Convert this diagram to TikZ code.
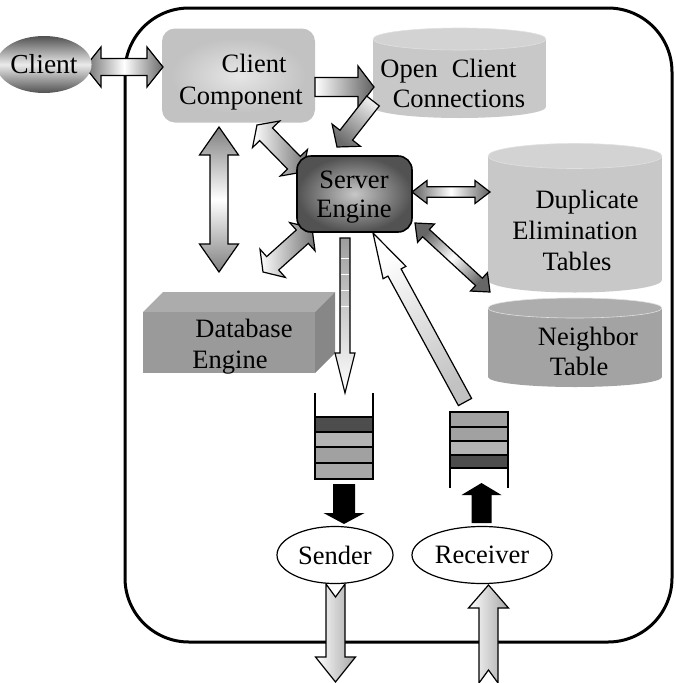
\documentclass[tikz,border=0pt]{standalone}
\usepackage{fontspec}
\setmainfont{Liberation Serif}
\usetikzlibrary{calc,shapes.geometric}

\definecolor{lidLight}{HTML}{D3D3D3}
\definecolor{bodyLight}{HTML}{C8C8C8}
\definecolor{lidDark}{HTML}{ADADAD}
\definecolor{bodyDark}{HTML}{A3A3A3}
\definecolor{dbFront}{HTML}{9A9A9A}
\definecolor{dbTop}{HTML}{ACACAC}
\definecolor{dbSide}{HTML}{878787}
\definecolor{slotDark}{HTML}{4D4D4D}
\definecolor{slotA}{HTML}{A1A1A1}
\definecolor{slotB}{HTML}{A8A8A8}
\definecolor{slotC}{HTML}{B4B4B4}
\definecolor{ccBase}{HTML}{C2C2C2}
\definecolor{ccGlow}{HTML}{E6E6E6}

% block arrow with a head at both ends: style, end A, end B, head length, shaft half width, head half width
\newcommand{\twoway}[6]{%
  \path ($(#2)!#4!(#3)$) coordinate (tw-a) ($(#3)!#4!(#2)$) coordinate (tw-b);
  \draw[#1] (#2) -- ($(tw-a)!#6!90:(#3)$) -- ($(tw-a)!#5!90:(#3)$)
    -- ($(tw-b)!#5!-90:(#2)$) -- ($(tw-b)!#6!-90:(#2)$) -- (#3)
    -- ($(tw-b)!#6!90:(#2)$) -- ($(tw-b)!#5!90:(#2)$)
    -- ($(tw-a)!#5!-90:(#3)$) -- ($(tw-a)!#6!-90:(#3)$) -- cycle;}
% block arrow with one head: style, tail, tip, head length, shaft half width, head half width
\newcommand{\oneway}[6]{%
  \path ($(#3)!#4!(#2)$) coordinate (ow-h);
  \draw[#1] ($(#2)!#5!90:(#3)$) -- ($(ow-h)!#5!-90:(#2)$) -- ($(ow-h)!#6!-90:(#2)$)
    -- (#3) -- ($(ow-h)!#6!90:(#2)$) -- ($(ow-h)!#5!90:(#2)$)
    -- ($(#2)!#5!-90:(#3)$) -- cycle;}
% block arrow with a notched tail: style, tail, tip, head length, shaft half, head half, notch depth
\newcommand{\notched}[7]{%
  \path ($(#3)!#4!(#2)$) coordinate (nt-h) ($(#2)!#7!(#3)$) coordinate (nt-n);
  \draw[#1] (nt-n) -- ($(#2)!#5!90:(#3)$) -- ($(nt-h)!#5!-90:(#2)$) -- ($(nt-h)!#6!-90:(#2)$)
    -- (#3) -- ($(nt-h)!#6!90:(#2)$) -- ($(nt-h)!#5!90:(#2)$)
    -- ($(#2)!#5!-90:(#3)$) -- cycle;}
% upright cylinder: cx, lid centre y, base centre y, rx, ry, body colour, lid colour
\newcommand{\drum}[7]{%
  \fill[#6] (#1,#3) ellipse[x radius=#4, y radius=#5];
  \fill[#6] (#1-#4,#2) rectangle (#1+#4,#3);
  \fill[#7, draw=white!88!black, line width=0.6pt] (#1,#2) ellipse[x radius=#4, y radius=#5];}

\tikzset{
  lbl/.style={anchor=base, inner sep=0pt, font=\fontsize{26.5}{32}\selectfont},
  blk/.style={draw=black, line width=1.2pt, line join=miter},
  slot/.style={draw=black, line width=1.2pt},
  oval/.style={ellipse, draw=black, line width=1.2pt, fill=white, inner sep=0pt,
    minimum height=57pt, font=\fontsize{26.5}{32}\selectfont},
}

\begin{document}
\begin{tikzpicture}[x=1pt, y=-1pt]
\useasboundingbox (0,0) rectangle (676,683);

% enclosing node boundary
\draw[line width=3pt, rounded corners=64pt] (125,8) rectangle (672,642);

% client component
\node[fill=ccBase, rounded corners=13pt, minimum width=153pt, minimum height=94pt, inner sep=0pt] (cc) at (238.5,75.5) {};
\node[inner color=ccGlow, outer color=ccBase, rounded corners=9pt, minimum width=135pt, minimum height=76pt, inner sep=0pt] (ccglow) at (238.5,75.5) {};
\node[lbl] (cc1) at (254,72) {Client};
\node[lbl] (cc2) at (241,104) {Component};

% stores
\drum{459.5}{39}{107}{86.5}{11}{bodyLight}{lidLight}
\node[lbl] (occ1) at (448.5,77) {Open\hspace{14pt}Client};
\node[lbl] (occ2) at (459,107) {Connections};

\drum{575}{156}{280}{87}{12.5}{bodyLight}{lidLight}
\node[lbl] (dup1) at (587,208) {Duplicate};
\node[lbl] (dup2) at (575,239) {Elimination};
\node[lbl] (dup3) at (577,270) {Tables};

\drum{575}{308}{377}{87}{10}{bodyDark}{lidDark}
\node[lbl] (nb1) at (588,345) {Neighbor};
\node[lbl] (nb2) at (579,375) {Table};

% database engine block
\fill[dbTop] (143,312) -- (163,292) -- (335,292) -- (315,312) -- cycle;
\fill[dbSide] (315,312) -- (335,292) -- (335,353) -- (315,373) -- cycle;
\fill[dbFront] (143,312) rectangle (315,373);
\node[lbl] (db1) at (244,337) {Database};
\node[lbl] (db2) at (230,368) {Engine};

% connector end points
\coordinate (clR) at (85,67);     \coordinate (ccL) at (163,67);
\coordinate (ccR) at (315,87);    \coordinate (occL) at (374,87);
\coordinate (occB) at (373,101);  \coordinate (seT) at (337,147);
\coordinate (ccB1) at (257,125);  \coordinate (seTL) at (303,172);
\coordinate (ccB2) at (219,127);  \coordinate (dbT) at (219,272);
\coordinate (seBL) at (312,228);  \coordinate (dbTR) at (263,272);
\coordinate (seR) at (412,192);   \coordinate (dupL) at (490,192);
\coordinate (seR2) at (415,223);  \coordinate (nbL) at (490,292);
\coordinate (seB) at (345,238);   \coordinate (sqT) at (345,393);
\coordinate (rqT) at (465,402);   \coordinate (seBR) at (373,233);
\coordinate (sqB) at (344,484);   \coordinate (sndT) at (344,524);
\coordinate (rcvT) at (481.5,523); \coordinate (rqB) at (481.5,483);
\coordinate (sndB) at (335.5,584); \coordinate (netOut) at (335.5,682);
\coordinate (netIn) at (488.5,683); \coordinate (rcvB) at (488.5,585);

% block arrows
\twoway{blk, left color=black!58, right color=black!58, middle color=white}{clR}{ccL}{16pt}{8.5pt}{20pt}
\oneway{blk, left color=white, right color=black!62}{ccR}{occL}{16pt}{9.5pt}{21pt}
\oneway{blk, top color=black!8, bottom color=black!58, shading angle=-38}{occB}{seT}{15pt}{8pt}{18pt}
\twoway{blk, left color=white, right color=black!55}{ccB1}{seTL}{13pt}{9pt}{19pt}
\twoway{blk, top color=black!50, bottom color=black!50, middle color=white}{ccB2}{dbT}{28pt}{9pt}{19.5pt}
\twoway{blk, left color=white, right color=black!55}{dbTR}{seBL}{13pt}{9pt}{19pt}
\twoway{blk, left color=black!62, right color=black!62, middle color=white}{seR}{dupL}{15pt}{5.3pt}{11.5pt}
\twoway{blk, top color=black!60, bottom color=black!60, middle color=white, shading angle=-132.6}{seR2}{nbL}{15pt}{5pt}{12.5pt}
\oneway{blk, top color=black!38, bottom color=white}{seB}{sqT}{40pt}{5pt}{10pt}
\foreach \ty in {258,274,290,306}
  \draw[white, line width=0.9pt] (341,\ty) -- (349,\ty);
\oneway{blk, top color=black!24, bottom color=white, shading angle=208.6}{rqT}{seBR}{45pt}{7.5pt}{13pt}

% server engine
\node[draw=black, line width=1.6pt, rounded corners=14pt, minimum width=115pt, minimum height=76pt,
      inner color=black!22, outer color=black!68, inner sep=0pt] (se) at (354.5,194) {};
\node[lbl] (se1) at (354,188) {Server};
\node[lbl] (se2) at (354,217) {Engine};

% outgoing and incoming queues
\fill[slotDark] (315,417) rectangle (373,432);
\fill[slotC] (315,432) rectangle (373,447);
\fill[slotA] (315,447) rectangle (373,463);
\fill[slotB] (315,463) rectangle (373,479);
\foreach \ty in {417,432,447,463} \draw[slot] (315,\ty) -- (373,\ty);
\draw[slot] (315,393) -- (315,479) -- (373,479) -- (373,393);

\fill[slotA] (450,412) rectangle (508,427);
\fill[slotA] (450,427) rectangle (508,441);
\fill[slotC] (450,441) rectangle (508,455);
\fill[slotDark] (450,455) rectangle (508,468);
\foreach \ty in {427,441,455,468} \draw[slot] (450,\ty) -- (508,\ty);
\draw[slot] (450,488) -- (450,412) -- (508,412) -- (508,488);

% solid hand-off arrows
\oneway{fill=black, draw=none}{sqB}{sndT}{11pt}{11pt}{20.5pt}
\oneway{fill=black, draw=none}{rcvT}{rqB}{12pt}{10pt}{20pt}

% network links
\notched{blk, left color=white, right color=black!35}{sndB}{netOut}{25pt}{9.5pt}{20pt}{13pt}
\notched{blk, left color=white, right color=black!35}{netIn}{rcvB}{23pt}{9.5pt}{20pt}{13pt}

% client and radio end points
\node[ellipse, inner sep=0pt, minimum width=78pt, minimum height=57pt,
      top color=black!68, bottom color=black!68, middle color=black!8,
      font=\fontsize{27.5}{32}\selectfont] (client) at (44,64.5) {Client};
\node[oval, minimum width=116pt] (snd) at (335,555) {Sender};
\node[oval, minimum width=140pt] (rcv) at (482,555) {Receiver};
\end{tikzpicture}
\end{document}
